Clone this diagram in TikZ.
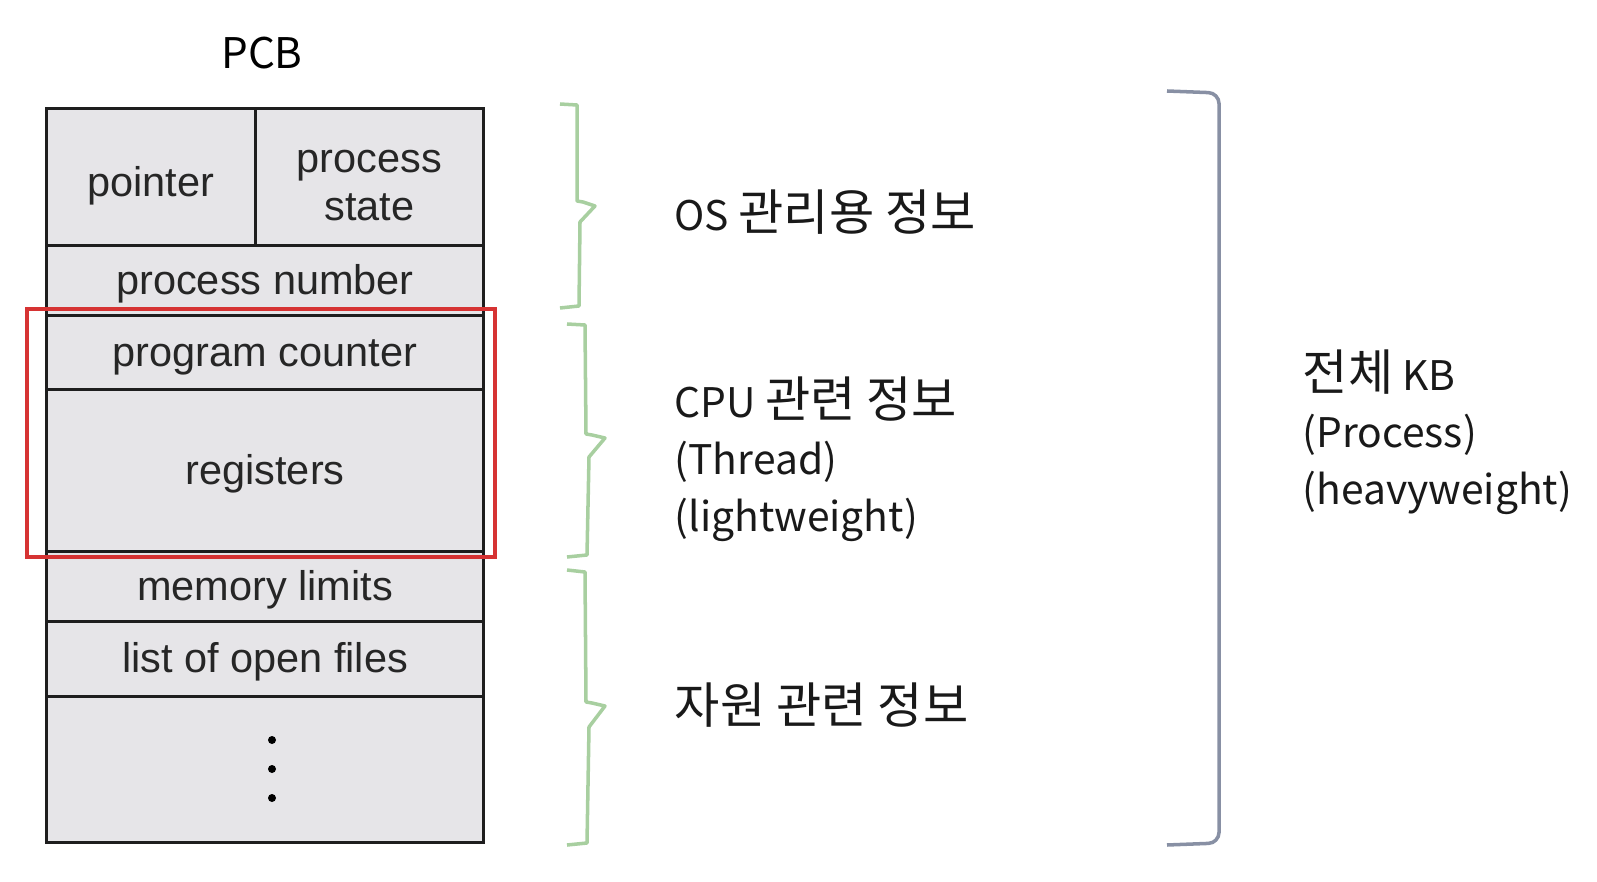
\documentclass[tikz,border=0pt]{standalone}
\usepackage{fontspec}
\setmainfont{Liberation Sans}
\newfontfamily\kr{Noto Sans CJK KR}
\usepackage{tikz}
\usetikzlibrary{positioning}
\definecolor{pcbfill}{HTML}{E6E5E8}
\definecolor{pcbline}{HTML}{1E1E1E}
\definecolor{hired}{HTML}{D63333}
\definecolor{bracegreen}{HTML}{A8CFA0}
\definecolor{bracegray}{HTML}{8890A4}
\newcommand{\hg}[1]{{\fontsize{14}{16.2}\selectfont #1}}
\tikzset{
  cell/.style={draw=pcbline, fill=pcbfill, line width=0.8pt, anchor=north west,
               inner sep=0pt, minimum width=4.37cm, align=center,
               font=\fontsize{11.8}{13.5}\selectfont, text=black!85,
               execute at begin node={\rule{0pt}{10.2pt}}},
  note/.style={anchor=west, align=left, font=\kr\fontsize{11.6}{16.2}\selectfont,
               text=black!90, inner sep=0pt},
  greenbrace/.style={draw=bracegreen, line width=1pt, line join=round},
  bigbrace/.style={draw=bracegray, line width=1pt, rounded corners=3pt},
}

\begin{document}
\begin{tikzpicture}[x=0.01cm, y=-0.01cm]

  \useasboundingbox (0,0) rectangle (1597,882);

  \node[font=\kr\fontsize{12}{14}\selectfont] (title) at (262,53) {PCB};

  % PCB table
  \node[cell, minimum width=2.09cm, minimum height=1.37cm] (pointer) at (45,107) {\rule{0pt}{13.7pt}pointer};
  \node[cell, minimum width=2.28cm, minimum height=1.37cm] (pstate) at (254,107) {\rule{0pt}{11.3pt}process\\state};
  \node[cell, minimum height=0.70cm] (pnum) at (45,244) {process number};
  \node[cell, minimum height=0.74cm] (pc) at (45,314) {program counter};
  \node[cell, minimum height=1.62cm] (regs) at (45,388) {registers};
  \node[cell, minimum height=0.70cm] (memlim) at (45,550) {memory limits};
  \node[cell, minimum height=0.75cm] (files) at (45,620) {list of open files};
  \node[cell, minimum height=1.46cm] (more) at (45,695) {};
  \foreach \y in {740,769,798}
    \fill[black] (272,\y) circle (0.04cm);

  % thread part
  \draw[hired, line width=1.2pt] (27,309) rectangle (495,557);

  % braces
  \draw[greenbrace] (560,104) -- (577,105) -- (577,201) -- (583,202) -- (595,206)
    -- (580,222) -- (579,306) -- (560,308);
  \draw[greenbrace] (567,324) -- (585,325) -- (586,434) -- (592,435) -- (605,438)
    -- (589,457) -- (587,555) -- (567,557);
  \draw[greenbrace] (567,570) -- (585,572) -- (586,702) -- (592,703) -- (605,706)
    -- (589,727) -- (587,843) -- (567,845);
  \draw[bigbrace] (1167,91) -- (1219,93) -- (1219,843) -- (1167,845);

  % labels
  \node[note] (osinfo) at (674,212) {OS \hg{관리용 정보}};
  \node[note] (cpuinfo) at (674,459) {CPU \hg{관련 정보}\\(Thread)\\(lightweight)};
  \node[note] (resinfo) at (674,705) {\hg{자원 관련 정보}};
  \node[note] (allinfo) at (1302,432) {\hg{전체} KB\\(Process)\\(heavyweight)};

\end{tikzpicture}
\end{document}
